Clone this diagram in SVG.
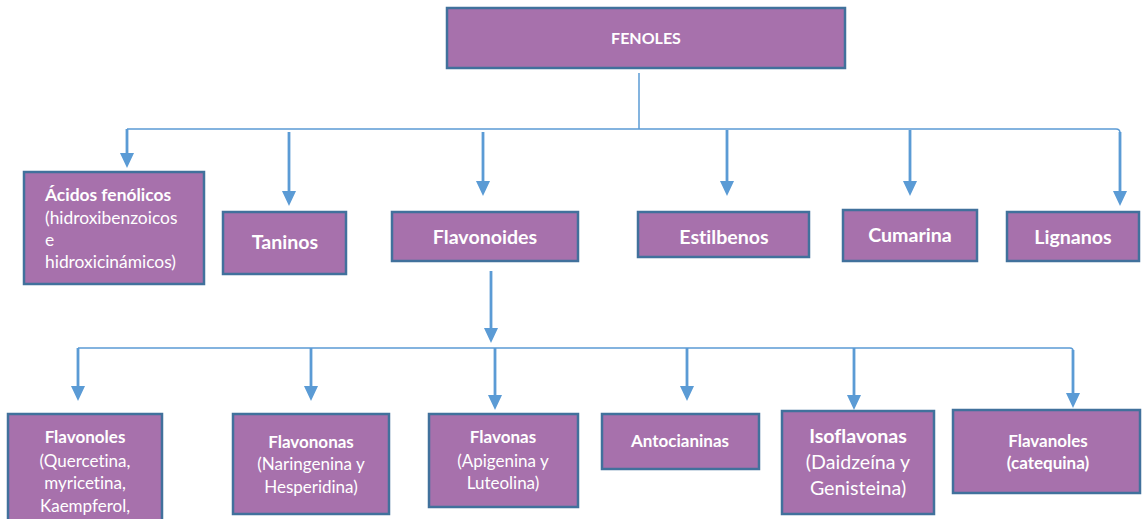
<svg xmlns="http://www.w3.org/2000/svg" width="1143" height="519" viewBox="0 0 1143 519">
<style>
.box{fill:#A771AC;stroke:#41719C;stroke-width:2.5}
.t{font-family:Lato,"Liberation Sans",sans-serif;fill:#ffffff;text-anchor:middle;font-variant-ligatures:none}
.b{font-weight:bold}
.bus{fill:none;stroke:#5B9BD5;stroke-width:1.5}
.arr{fill:none;stroke:#5B9BD5;stroke-width:2.8;marker-end:url(#ah)}
</style>
<defs>
<marker id="ah" markerUnits="userSpaceOnUse" markerWidth="16" markerHeight="16" refX="1" refY="7" orient="auto" viewBox="0 0 16 16">
<path d="M0,0 L15,7 L0,14 z" fill="#5B9BD5"/>
</marker>
</defs>
<g id="connectors">
<path class="bus" d="M639,73 V129"/>
<path class="bus" d="M127,129 H1116 Q1120,129 1120,133"/>
<path class="arr" d="M127,129 V154"/>
<path class="arr" d="M289,132 V192"/>
<path class="arr" d="M483,132 V182"/>
<path class="arr" d="M727,130 V182"/>
<path class="arr" d="M910,130 V182"/>
<path class="arr" d="M1120,132 V192"/>
<path class="arr" d="M491,271 V329"/>
<path class="bus" d="M78,348 H1070 Q1073,348 1073,351"/>
<path class="arr" d="M78,348 V387"/>
<path class="arr" d="M311,348 V387"/>
<path class="arr" d="M495,348 V396"/>
<path class="arr" d="M687,348 V387"/>
<path class="arr" d="M854,348 V396"/>
<path class="arr" d="M1073,350 V394"/>
</g>
<g id="fenoles">
<rect class="box" x="447" y="8" width="398" height="60"/>
<text class="t b" x="646" y="44" font-size="16">FENOLES</text>
</g>
<g id="acidos">
<rect class="box" x="24" y="172" width="180" height="112"/>
<text class="t" x="45" y="201" font-size="17.4" style="text-anchor:start"><tspan class="b">Ácidos fenólicos</tspan><tspan x="45" y="224">(hidroxibenzoicos</tspan><tspan x="45" y="246">e</tspan><tspan x="45" y="268">hidroxicinámicos)</tspan></text>
</g>
<g id="taninos">
<rect class="box" x="223" y="212" width="123" height="62"/>
<text class="t b" x="285" y="249" font-size="19.6">Taninos</text>
</g>
<g id="flavonoides">
<rect class="box" x="392" y="212" width="186" height="49"/>
<text class="t b" x="485" y="244" font-size="19.6">Flavonoides</text>
</g>
<g id="estilbenos">
<rect class="box" x="638" y="212" width="171" height="45"/>
<text class="t b" x="724" y="244" font-size="19.6">Estilbenos</text>
</g>
<g id="cumarina">
<rect class="box" x="843" y="210" width="134" height="51"/>
<text class="t b" x="910" y="242" font-size="19.6">Cumarina</text>
</g>
<g id="lignanos">
<rect class="box" x="1007" y="212" width="132" height="49"/>
<text class="t b" x="1073" y="244" font-size="19.6">Lignanos</text>
</g>
<g id="flavonoles">
<rect class="box" x="8" y="414" width="154" height="120"/>
<text class="t" x="85" y="443" font-size="17"><tspan class="b">Flavonoles</tspan><tspan x="85" y="467">(Quercetina,</tspan><tspan x="85" y="489">myricetina,</tspan><tspan x="85" y="512">Kaempferol,</tspan></text>
</g>
<g id="flavononas">
<rect class="box" x="233" y="414" width="156" height="100"/>
<text class="t" x="311" y="448" font-size="17"><tspan class="b">Flavononas</tspan><tspan x="311" y="470">(Naringenina y</tspan><tspan x="311" y="493">Hesperidina)</tspan></text>
</g>
<g id="flavonas">
<rect class="box" x="429" y="414" width="149" height="93"/>
<text class="t" x="503" y="443" font-size="17"><tspan class="b">Flavonas</tspan><tspan x="503" y="467">(Apigenina y</tspan><tspan x="503" y="489">Luteolina)</tspan></text>
</g>
<g id="antocianinas">
<rect class="box" x="602" y="414" width="157" height="55"/>
<text class="t b" x="680" y="447" font-size="17">Antocianinas</text>
</g>
<g id="isoflavonas">
<rect class="box" x="782" y="411" width="152" height="103"/>
<text class="t" x="858" y="443" font-size="19.6"><tspan class="b">Isoflavonas</tspan><tspan x="858" y="469">(Daidzeína y</tspan><tspan x="858" y="495">Genisteina)</tspan></text>
</g>
<g id="flavanoles">
<rect class="box" x="953" y="410" width="187" height="83"/>
<text class="t b" x="1048" y="447" font-size="17">Flavanoles<tspan x="1048" y="469">(catequina)</tspan></text>
</g>
</svg>
